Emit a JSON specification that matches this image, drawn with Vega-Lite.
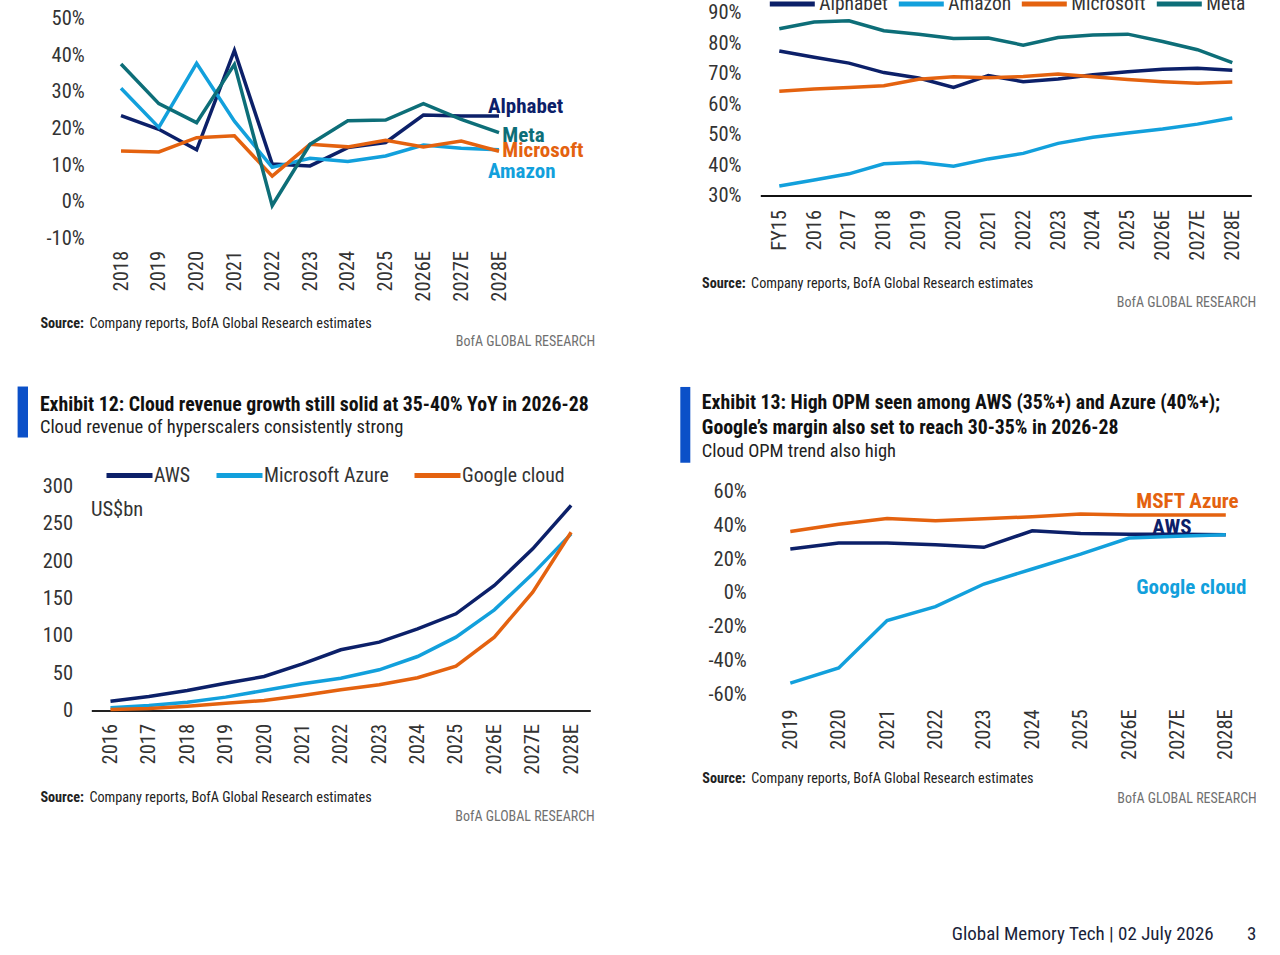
{
  "$schema": "https://vega.github.io/schema/vega-lite/v6.json",
  "background": "white",
  "padding": {"left": 17.3, "top": -21.5, "right": 0, "bottom": 0},
  "config": {
    "font": "Roboto Condensed, Roboto",
    "view": {"stroke": null},
    "axis": {
      "grid": false, "ticks": false, "tickSize": 0, "domain": false,
      "labelFontSize": 20.5, "labelColor": "#333333", "labelOverlap": false,
      "titleFontSize": 14.2, "titleColor": "#222222", "titleFontWeight": "normal"
    },
    "legend": {"labelColor": "#333333", "padding": 0},
    "title": {"fontWeight": "normal", "fontSize": 14, "color": "#707070"}
  },
  "datasets": {
    "growth": [
      {"year": "2018", "company": "Alphabet", "value": 23.5},
      {"year": "2019", "company": "Alphabet", "value": 19.8},
      {"year": "2020", "company": "Alphabet", "value": 14.2},
      {"year": "2021", "company": "Alphabet", "value": 41.3},
      {"year": "2022", "company": "Alphabet", "value": 10.3},
      {"year": "2023", "company": "Alphabet", "value": 9.8},
      {"year": "2024", "company": "Alphabet", "value": 14.8},
      {"year": "2025", "company": "Alphabet", "value": 16.2},
      {"year": "2026E", "company": "Alphabet", "value": 23.7},
      {"year": "2027E", "company": "Alphabet", "value": 23.4},
      {"year": "2028E", "company": "Alphabet", "value": 23.4},
      {"year": "2018", "company": "Amazon", "value": 31.0},
      {"year": "2019", "company": "Amazon", "value": 20.3},
      {"year": "2020", "company": "Amazon", "value": 37.8},
      {"year": "2021", "company": "Amazon", "value": 22.0},
      {"year": "2022", "company": "Amazon", "value": 9.4},
      {"year": "2023", "company": "Amazon", "value": 11.9},
      {"year": "2024", "company": "Amazon", "value": 11.0},
      {"year": "2025", "company": "Amazon", "value": 12.5},
      {"year": "2026E", "company": "Amazon", "value": 15.5},
      {"year": "2027E", "company": "Amazon", "value": 14.6},
      {"year": "2028E", "company": "Amazon", "value": 14.2},
      {"year": "2018", "company": "Microsoft", "value": 13.9},
      {"year": "2019", "company": "Microsoft", "value": 13.6},
      {"year": "2020", "company": "Microsoft", "value": 17.5},
      {"year": "2021", "company": "Microsoft", "value": 18.0},
      {"year": "2022", "company": "Microsoft", "value": 7.0},
      {"year": "2023", "company": "Microsoft", "value": 15.7},
      {"year": "2024", "company": "Microsoft", "value": 15.0},
      {"year": "2025", "company": "Microsoft", "value": 16.8},
      {"year": "2026E", "company": "Microsoft", "value": 15.0},
      {"year": "2027E", "company": "Microsoft", "value": 16.6},
      {"year": "2028E", "company": "Microsoft", "value": 13.8},
      {"year": "2018", "company": "Meta", "value": 37.6},
      {"year": "2019", "company": "Meta", "value": 26.8},
      {"year": "2020", "company": "Meta", "value": 21.6},
      {"year": "2021", "company": "Meta", "value": 37.5},
      {"year": "2022", "company": "Meta", "value": -1.0},
      {"year": "2023", "company": "Meta", "value": 15.7},
      {"year": "2024", "company": "Meta", "value": 22.1},
      {"year": "2025", "company": "Meta", "value": 22.3},
      {"year": "2026E", "company": "Meta", "value": 26.8},
      {"year": "2027E", "company": "Meta", "value": 22.5},
      {"year": "2028E", "company": "Meta", "value": 18.9}
    ],
    "margin": [
      {"year": "FY15", "company": "Alphabet", "value": 77.4},
      {"year": "2016", "company": "Alphabet", "value": 75.3},
      {"year": "2017", "company": "Alphabet", "value": 73.4},
      {"year": "2018", "company": "Alphabet", "value": 70.3},
      {"year": "2019", "company": "Alphabet", "value": 68.5},
      {"year": "2020", "company": "Alphabet", "value": 65.4},
      {"year": "2021", "company": "Alphabet", "value": 69.3},
      {"year": "2022", "company": "Alphabet", "value": 67.3},
      {"year": "2023", "company": "Alphabet", "value": 68.2},
      {"year": "2024", "company": "Alphabet", "value": 69.6},
      {"year": "2025", "company": "Alphabet", "value": 70.6},
      {"year": "2026E", "company": "Alphabet", "value": 71.4},
      {"year": "2027E", "company": "Alphabet", "value": 71.7},
      {"year": "2028E", "company": "Alphabet", "value": 71.1},
      {"year": "FY15", "company": "Amazon", "value": 33.1},
      {"year": "2016", "company": "Amazon", "value": 35.1},
      {"year": "2017", "company": "Amazon", "value": 37.1},
      {"year": "2018", "company": "Amazon", "value": 40.4},
      {"year": "2019", "company": "Amazon", "value": 40.9},
      {"year": "2020", "company": "Amazon", "value": 39.6},
      {"year": "2021", "company": "Amazon", "value": 42.0},
      {"year": "2022", "company": "Amazon", "value": 43.8},
      {"year": "2023", "company": "Amazon", "value": 47.1},
      {"year": "2024", "company": "Amazon", "value": 49.1},
      {"year": "2025", "company": "Amazon", "value": 50.5},
      {"year": "2026E", "company": "Amazon", "value": 51.8},
      {"year": "2027E", "company": "Amazon", "value": 53.4},
      {"year": "2028E", "company": "Amazon", "value": 55.4},
      {"year": "FY15", "company": "Microsoft", "value": 64.2},
      {"year": "2016", "company": "Microsoft", "value": 64.9},
      {"year": "2017", "company": "Microsoft", "value": 65.4},
      {"year": "2018", "company": "Microsoft", "value": 66.0},
      {"year": "2019", "company": "Microsoft", "value": 68.1},
      {"year": "2020", "company": "Microsoft", "value": 68.9},
      {"year": "2021", "company": "Microsoft", "value": 68.6},
      {"year": "2022", "company": "Microsoft", "value": 69.0},
      {"year": "2023", "company": "Microsoft", "value": 69.8},
      {"year": "2024", "company": "Microsoft", "value": 68.9},
      {"year": "2025", "company": "Microsoft", "value": 68.0},
      {"year": "2026E", "company": "Microsoft", "value": 67.3},
      {"year": "2027E", "company": "Microsoft", "value": 66.8},
      {"year": "2028E", "company": "Microsoft", "value": 67.2},
      {"year": "FY15", "company": "Meta", "value": 84.7},
      {"year": "2016", "company": "Meta", "value": 86.9},
      {"year": "2017", "company": "Meta", "value": 87.3},
      {"year": "2018", "company": "Meta", "value": 84.0},
      {"year": "2019", "company": "Meta", "value": 82.9},
      {"year": "2020", "company": "Meta", "value": 81.5},
      {"year": "2021", "company": "Meta", "value": 81.6},
      {"year": "2022", "company": "Meta", "value": 79.3},
      {"year": "2023", "company": "Meta", "value": 81.8},
      {"year": "2024", "company": "Meta", "value": 82.6},
      {"year": "2025", "company": "Meta", "value": 82.9},
      {"year": "2026E", "company": "Meta", "value": 80.5},
      {"year": "2027E", "company": "Meta", "value": 77.8},
      {"year": "2028E", "company": "Meta", "value": 73.6}
    ],
    "cloud_rev": [
      {"year": "2016", "service": "AWS", "value": 12.5},
      {"year": "2017", "service": "AWS", "value": 18.8},
      {"year": "2018", "service": "AWS", "value": 26.8},
      {"year": "2019", "service": "AWS", "value": 36.6},
      {"year": "2020", "service": "AWS", "value": 45.5},
      {"year": "2021", "service": "AWS", "value": 62.5},
      {"year": "2022", "service": "AWS", "value": 81.3},
      {"year": "2023", "service": "AWS", "value": 91.5},
      {"year": "2024", "service": "AWS", "value": 109.4},
      {"year": "2025", "service": "AWS", "value": 129.5},
      {"year": "2026E", "service": "AWS", "value": 167.4},
      {"year": "2027E", "service": "AWS", "value": 216.5},
      {"year": "2028E", "service": "AWS", "value": 274.6},
      {"year": "2016", "service": "Microsoft Azure", "value": 3.6},
      {"year": "2017", "service": "Microsoft Azure", "value": 6.7},
      {"year": "2018", "service": "Microsoft Azure", "value": 11.2},
      {"year": "2019", "service": "Microsoft Azure", "value": 17.9},
      {"year": "2020", "service": "Microsoft Azure", "value": 26.8},
      {"year": "2021", "service": "Microsoft Azure", "value": 35.7},
      {"year": "2022", "service": "Microsoft Azure", "value": 43.3},
      {"year": "2023", "service": "Microsoft Azure", "value": 54.5},
      {"year": "2024", "service": "Microsoft Azure", "value": 72.3},
      {"year": "2025", "service": "Microsoft Azure", "value": 98.2},
      {"year": "2026E", "service": "Microsoft Azure", "value": 134.8},
      {"year": "2027E", "service": "Microsoft Azure", "value": 183.0},
      {"year": "2028E", "service": "Microsoft Azure", "value": 236.6},
      {"year": "2016", "service": "Google cloud", "value": 1.3},
      {"year": "2017", "service": "Google cloud", "value": 2.7},
      {"year": "2018", "service": "Google cloud", "value": 5.8},
      {"year": "2019", "service": "Google cloud", "value": 9.8},
      {"year": "2020", "service": "Google cloud", "value": 13.4},
      {"year": "2021", "service": "Google cloud", "value": 20.1},
      {"year": "2022", "service": "Google cloud", "value": 27.7},
      {"year": "2023", "service": "Google cloud", "value": 34.4},
      {"year": "2024", "service": "Google cloud", "value": 43.8},
      {"year": "2025", "service": "Google cloud", "value": 59.4},
      {"year": "2026E", "service": "Google cloud", "value": 98.2},
      {"year": "2027E", "service": "Google cloud", "value": 158.5},
      {"year": "2028E", "service": "Google cloud", "value": 238.8}
    ],
    "cloud_opm": [
      {"year": "2019", "service": "MSFT Azure", "value": 36.4},
      {"year": "2020", "service": "MSFT Azure", "value": 40.7},
      {"year": "2021", "service": "MSFT Azure", "value": 44.1},
      {"year": "2022", "service": "MSFT Azure", "value": 42.7},
      {"year": "2023", "service": "MSFT Azure", "value": 43.9},
      {"year": "2024", "service": "MSFT Azure", "value": 45.1},
      {"year": "2025", "service": "MSFT Azure", "value": 46.7},
      {"year": "2026E", "service": "MSFT Azure", "value": 46.1},
      {"year": "2027E", "service": "MSFT Azure", "value": 46.1},
      {"year": "2028E", "service": "MSFT Azure", "value": 46.1},
      {"year": "2019", "service": "AWS", "value": 26.0},
      {"year": "2020", "service": "AWS", "value": 29.5},
      {"year": "2021", "service": "AWS", "value": 29.5},
      {"year": "2022", "service": "AWS", "value": 28.5},
      {"year": "2023", "service": "AWS", "value": 27.0},
      {"year": "2024", "service": "AWS", "value": 36.8},
      {"year": "2025", "service": "AWS", "value": 35.2},
      {"year": "2026E", "service": "AWS", "value": 34.8},
      {"year": "2027E", "service": "AWS", "value": 34.8},
      {"year": "2028E", "service": "AWS", "value": 34.4},
      {"year": "2019", "service": "Google cloud", "value": -53.3},
      {"year": "2020", "service": "Google cloud", "value": -44.3},
      {"year": "2021", "service": "Google cloud", "value": -16.3},
      {"year": "2022", "service": "Google cloud", "value": -8.1},
      {"year": "2023", "service": "Google cloud", "value": 5.3},
      {"year": "2024", "service": "Google cloud", "value": 14.2},
      {"year": "2025", "service": "Google cloud", "value": 23.0},
      {"year": "2026E", "service": "Google cloud", "value": 32.5},
      {"year": "2027E", "service": "Google cloud", "value": 33.5},
      {"year": "2028E", "service": "Google cloud", "value": 34.4}
    ]
  },
  "title": {
    "text": "Global Memory Tech | 02 July 2026\u2003\u20033",
    "orient": "bottom", "anchor": "end", "frame": "bounds", "offset": 102,
    "fontSize": 19, "color": "#1a1f3a"
  },
  "spacing": 85,
  "resolve": {"scale": {"color": "independent"}},
  "hconcat": [
    {
      "vconcat": [
        {
          "width": 426,
          "height": 226,
          "data": {"name": "growth"},
          "title": {"text": "BofA GLOBAL RESEARCH", "orient": "bottom", "anchor": "end", "frame": "group", "dx": 78, "offset": 4.5},
          "encoding": {
            "x": {
              "field": "year", "type": "ordinal",
              "scale": {"type": "point", "domain": ["2018", "2019", "2020", "2021", "2022", "2023", "2024", "2025", "2026E", "2027E", "2028E"], "padding": 0.635, "align": 0.619},
              "axis": {"labelAngle": 270, "labelPadding": 12, "title": "Source:", "titleFontWeight": "bold", "titleX": -51.4, "titleY": 84.7, "titleAngle": 0, "titleAlign": "left", "titleBaseline": "middle"}
            },
            "y": {
              "field": "value", "type": "quantitative",
              "scale": {"domain": [-10, 51.66], "nice": false, "zero": false},
              "axis": {"values": [-10, 0, 10, 20, 30, 40, 50], "labelExpr": "datum.value + '%'", "labelPadding": 7, "title": "Company reports, BofA Global Research estimates", "titleX": -2.4, "titleY": 310.7, "titleAngle": 0, "titleAlign": "left", "titleBaseline": "middle"}
            }
          },
          "layer": [
            {
              "data": {"values": [{}]},
              "mark": {"type": "rule", "color": "#555555", "strokeWidth": 2.5, "xOffset": -18, "x2Offset": 18.5},
              "encoding": {"x": {"datum": "2018"}, "x2": {"datum": "2028E"}, "y": {"datum": 0}}
            },
            {
              "mark": {"type": "line", "strokeWidth": 3.5},
              "encoding": {
                "color": {"field": "company", "type": "nominal", "legend": null,
                  "scale": {"domain": ["Alphabet", "Amazon", "Microsoft", "Meta"], "range": ["#0c2069", "#12a0dc", "#e4620f", "#0d6e78"]}}
              }
            },
            {
              "transform": [{"filter": "datum.company === 'Alphabet' && datum.year === '2028E'"}],
              "mark": {"type": "text", "align": "left", "baseline": "middle", "dx": -11, "dy": -9, "fontSize": 21, "fontWeight": "bold", "color": "#0c2069"},
              "encoding": {"text": {"field": "company"}}
            },
            {
              "transform": [{"filter": "datum.company === 'Meta' && datum.year === '2028E'"}],
              "mark": {"type": "text", "align": "left", "baseline": "middle", "dx": 3.3, "dy": 3.6, "fontSize": 21, "fontWeight": "bold", "color": "#0d6e78"},
              "encoding": {"text": {"field": "company"}}
            },
            {
              "transform": [{"filter": "datum.company === 'Microsoft' && datum.year === '2028E'"}],
              "mark": {"type": "text", "align": "left", "baseline": "middle", "dx": 3.3, "dy": 0.2, "fontSize": 21, "fontWeight": "bold", "color": "#e4620f"},
              "encoding": {"text": {"field": "company"}}
            },
            {
              "transform": [{"filter": "datum.company === 'Amazon' && datum.year === '2028E'"}],
              "mark": {"type": "text", "align": "left", "baseline": "middle", "dx": -11, "dy": 22.4, "fontSize": 21, "fontWeight": "bold", "color": "#12a0dc"},
              "encoding": {"text": {"field": "company"}}
            }
          ]
        },
        {
          "width": 499,
          "height": 224,
          "data": {"name": "cloud_rev"},
          "title": {
            "text": "Exhibit 12: Cloud revenue growth still solid at 35-40% YoY in 2026-28",
            "subtitle": "Cloud revenue of hyperscalers consistently strong",
            "anchor": "start", "frame": "group", "dx": -51.4, "offset": -55.2,
            "fontSize": 19.8, "fontWeight": "bold", "color": "#111111",
            "subtitleFontSize": 18.5, "subtitleColor": "#222222", "subtitlePadding": 3.5
          },
          "resolve": {"axis": {"y": "independent"}},
          "layer": [
            {
              "encoding": {
                "x": {
                  "field": "year", "type": "ordinal",
                  "scale": {"type": "point", "domain": ["2016", "2017", "2018", "2019", "2020", "2021", "2022", "2023", "2024", "2025", "2026E", "2027E", "2028E"], "padding": 0.5, "align": 0.5},
                  "axis": {"labelAngle": 270, "labelPadding": 13, "domain": true, "domainColor": "#222222", "domainWidth": 2, "title": "Source:", "titleFontWeight": "bold", "titleX": -51.4, "titleY": 86.7, "titleAngle": 0, "titleAlign": "left", "titleBaseline": "middle"}
                },
                "y": {
                  "field": "value", "type": "quantitative",
                  "scale": {"domain": [0, 300], "nice": false, "zero": false},
                  "axis": {"orient": "left", "values": [0, 50, 100, 150, 200, 250, 300], "labelPadding": 18.7, "title": "Company reports, BofA Global Research estimates", "titleX": -2.4, "titleY": 310.7, "titleAngle": 0, "titleAlign": "left", "titleBaseline": "middle"}
                }
              },
              "layer": [
                {
                  "mark": {"type": "line", "strokeWidth": 3.5},
                  "encoding": {
                    "color": {"field": "service", "type": "nominal",
                      "scale": {"domain": ["AWS", "Microsoft Azure", "Google cloud"], "range": ["#0c2069", "#12a0dc", "#e4620f"]},
                      "legend": {"orient": "none", "legendX": 12.7, "legendY": -36.7, "direction": "horizontal", "title": null, "symbolType": "stroke", "symbolSize": 2116, "symbolStrokeWidth": 5, "labelFontSize": 19.8, "labelOffset": -1, "columnPadding": 15}}
                  }
                }
              ]
            },
            {
              "data": {"values": [{}]},
              "mark": {"type": "text", "align": "left", "baseline": "middle", "dx": -19.5, "fontSize": 20.5, "color": "#333333"},
              "encoding": {"x": {"datum": "2016"}, "y": {"datum": 268.8, "axis": null}, "text": {"value": "US$bn"}}
            },
            {
              "data": {"values": [{}]},
              "mark": {"type": "rule", "color": "#0b50c8", "strokeWidth": 10.4, "xOffset": -87.7},
              "encoding": {
                "x": {"datum": "2016"},
                "y": {"datum": 433.9, "axis": {"orient": "right", "labels": false, "minExtent": 0, "maxExtent": 0, "title": "BofA GLOBAL RESEARCH", "titleColor": "#707070", "titleFontSize": 14, "titleX": 4, "titleY": 330, "titleAngle": 0, "titleAlign": "right", "titleBaseline": "middle"}},
                "y2": {"datum": 365.6}
              }
            }
          ]
        }
      ],
      "bounds": "flush",
      "spacing": 248,
      "resolve": {"scale": {"color": "independent"}}
    },
    {
      "vconcat": [
        {
          "width": 491,
          "height": 183,
          "data": {"name": "margin"},
          "title": {"text": "BofA GLOBAL RESEARCH", "orient": "bottom", "anchor": "end", "frame": "group", "dx": 5, "offset": 4.5},
          "encoding": {
            "x": {
              "field": "year", "type": "ordinal",
              "scale": {"type": "point", "domain": ["FY15", "2016", "2017", "2018", "2019", "2020", "2021", "2022", "2023", "2024", "2025", "2026E", "2027E", "2028E"], "padding": 0.545, "align": 0.5},
              "axis": {"labelAngle": 270, "labelPadding": 14, "domain": true, "domainColor": "#111111", "domainWidth": 2, "title": "Source:", "titleFontWeight": "bold", "titleX": -58.7, "titleY": 88.3, "titleAngle": 0, "titleAlign": "left", "titleBaseline": "middle"}
            },
            "y": {
              "field": "value", "type": "quantitative",
              "scale": {"domain": [30, 90], "nice": false, "zero": false},
              "axis": {"values": [30, 40, 50, 60, 70, 80, 90], "labelExpr": "datum.value + '%'", "labelPadding": 19.3, "title": "Company reports, BofA Global Research estimates", "titleX": -9.7, "titleY": 271.3, "titleAngle": 0, "titleAlign": "left", "titleBaseline": "middle"}
            }
          },
          "layer": [
            {
              "mark": {"type": "line", "strokeWidth": 3.5},
              "encoding": {
                "color": {"field": "company", "type": "nominal",
                  "scale": {"domain": ["Alphabet", "Amazon", "Microsoft", "Meta"], "range": ["#0c2069", "#12a0dc", "#e4620f", "#0d6e78"]},
                  "legend": {"orient": "none", "legendX": 7, "legendY": -33.5, "direction": "horizontal", "title": null, "symbolType": "stroke", "symbolSize": 2025, "symbolStrokeWidth": 5, "labelFontSize": 19.5, "labelOffset": 2, "columnPadding": 0}}
              }
            }
          ]
        },
        {
          "width": 492,
          "height": 203,
          "data": {"name": "cloud_opm"},
          "title": {
            "text": ["Exhibit 13: High OPM seen among AWS (35%+) and Azure (40%+);", "Google\u2019s margin also set to reach 30-35% in 2026-28"],
            "subtitle": "Cloud OPM trend also high",
            "anchor": "start", "frame": "group", "dx": -58.5, "offset": -79,
            "fontSize": 19.8, "fontWeight": "bold", "color": "#111111", "lineHeight": 24.5,
            "subtitleFontSize": 18.5, "subtitleColor": "#222222", "subtitlePadding": 5
          },
          "resolve": {"axis": {"y": "independent"}},
          "layer": [
            {
              "encoding": {
                "x": {
                  "field": "year", "type": "ordinal",
                  "scale": {"type": "point", "domain": ["2019", "2020", "2021", "2022", "2023", "2024", "2025", "2026E", "2027E", "2028E"], "padding": 0.584, "align": 0.531},
                  "axis": {"labelAngle": 270, "labelPadding": 14.3, "title": "Source:", "titleFontWeight": "bold", "titleX": -58.5, "titleY": 83.6, "titleAngle": 0, "titleAlign": "left", "titleBaseline": "middle"}
                },
                "y": {
                  "field": "value", "type": "quantitative",
                  "scale": {"domain": [-60, 60], "nice": false, "zero": false},
                  "axis": {"orient": "left", "values": [-60, -40, -20, 0, 20, 40, 60], "labelExpr": "datum.value + '%'", "labelPadding": 14, "title": "Company reports, BofA Global Research estimates", "titleX": -9.5, "titleY": 286.6, "titleAngle": 0, "titleAlign": "left", "titleBaseline": "middle"}
                }
              },
              "layer": [
                {
                  "data": {"values": [{}]},
                  "mark": {"type": "rule", "color": "#222222", "strokeWidth": 1.5, "xOffset": -25, "x2Offset": 25.5},
                  "encoding": {"x": {"datum": "2019"}, "x2": {"datum": "2028E"}, "y": {"datum": 0}}
                },
                {
                  "mark": {"type": "line", "strokeWidth": 3.5},
                  "encoding": {
                    "color": {"field": "service", "type": "nominal", "legend": null,
                      "scale": {"domain": ["MSFT Azure", "AWS", "Google cloud"], "range": ["#e4620f", "#0c2069", "#12a0dc"]}}
                  }
                },
                {
                  "transform": [{"filter": "datum.service === 'MSFT Azure' && datum.year === '2028E'"}],
                  "mark": {"type": "text", "align": "left", "baseline": "middle", "dx": -89.5, "dy": -13.5, "fontSize": 21, "fontWeight": "bold", "color": "#e4620f"},
                  "encoding": {"text": {"field": "service"}}
                },
                {
                  "transform": [{"filter": "datum.service === 'AWS' && datum.year === '2028E'"}],
                  "mark": {"type": "text", "align": "left", "baseline": "middle", "dx": -73.5, "dy": -7.3, "fontSize": 21, "fontWeight": "bold", "color": "#0c2069"},
                  "encoding": {"text": {"field": "service"}}
                },
                {
                  "transform": [{"filter": "datum.service === 'Google cloud' && datum.year === '2028E'"}],
                  "mark": {"type": "text", "align": "left", "baseline": "middle", "dx": -89.5, "dy": 52.7, "fontSize": 21, "fontWeight": "bold", "color": "#12a0dc"},
                  "encoding": {"text": {"field": "service"}}
                }
              ]
            },
            {
              "data": {"values": [{}]},
              "mark": {"type": "rule", "color": "#0b50c8", "strokeWidth": 10, "xOffset": -105},
              "encoding": {
                "x": {"datum": "2019"},
                "y": {"datum": 121.8, "axis": {"orient": "right", "labels": false, "minExtent": 0, "maxExtent": 0, "title": "BofA GLOBAL RESEARCH", "titleColor": "#707070", "titleFontSize": 14, "titleX": 4, "titleY": 306.6, "titleAngle": 0, "titleAlign": "right", "titleBaseline": "middle"}},
                "y2": {"datum": 77}
              }
            }
          ]
        }
      ],
      "bounds": "flush",
      "spacing": 296,
      "resolve": {"scale": {"color": "independent"}}
    }
  ]
}
